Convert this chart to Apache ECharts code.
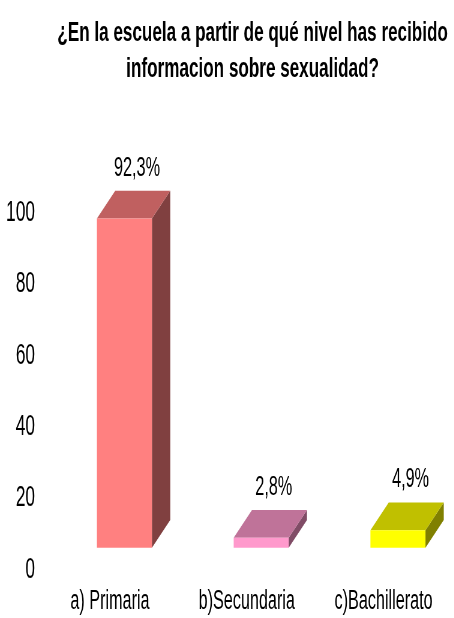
<!DOCTYPE html>
<html><head><meta charset="utf-8">
<script src="https://cdn.jsdelivr.net/npm/echarts@6/dist/echarts.min.js"></script>
<style>
html,body{margin:0;padding:0;background:#fff;overflow:hidden;width:454px;height:618px;}
#chart{width:757px;height:618px;transform:scaleX(0.6);transform-origin:0 0;}
</style></head><body><div id="chart"></div>
<script>
// ---- data ----
const titleText = '¿En la escuela a partir de qué nivel has recibido\ninformacion sobre sexualidad?';
const categories = ['a) Primaria', 'b)Secundaria', 'c)Bachillerato'];
const values = [92.3, 2.8, 4.9];
const yMin = 0, yMax = 100, yStep = 20;

// ---- styles ----
const frontColors = ['#FF8080', '#FF99CC', '#FFFF00'];
const topColors = ['#C06060', '#BF7399', '#C0C000'];
const sideColors = ['#804040', '#804C66', '#808000'];
const FONT = "'Liberation Sans', Arial, sans-serif";
const NARROW = "'Liberation Sans Narrow', 'Liberation Sans', Arial, sans-serif";
const BAR_W = 91.7, DX = 30.5, DY = 27.7, LIFT = 22, OFF_X = 24, LBL_DX = 21;

function fmt(v) { return v.toFixed(1).replace('.', ',') + '%'; }

function renderItem(params, api) {
  const i = api.value(0), v = api.value(1);
  const base = api.coord([i, 0]);
  const top = api.coord([i, v]);
  const cx = base[0] + OFF_X;
  const x0 = cx - BAR_W / 2, x1 = cx + BAR_W / 2;
  const yb = base[1] - LIFT, yt = top[1] - LIFT;
  return {
    type: 'group',
    children: [
      { type: 'polygon', shape: { points: [[x1, yt], [x1 + DX, yt - DY], [x1 + DX, yb - DY], [x1, yb]] },
        style: { fill: sideColors[i] } },
      { type: 'polygon', shape: { points: [[x0, yt], [x0 + DX, yt - DY], [x1 + DX, yt - DY], [x1, yt]] },
        style: { fill: topColors[i] } },
      { type: 'rect', shape: { x: x0, y: yt, width: BAR_W, height: yb - yt },
        style: { fill: frontColors[i] } },
      { type: 'text', x: cx + LBL_DX, y: yt - DY - 9,
        style: { text: fmt(v), fill: '#000', fontSize: 27, fontFamily: FONT, align: 'center', verticalAlign: 'bottom' } }
    ]
  };
}

const chart = echarts.init(document.getElementById('chart'), null, { renderer: 'canvas' });
chart.setOption({
  backgroundColor: '#fff',
  animation: false,
  title: {
    text: titleText,
    left: 421, top: 15, padding: 0,
    textAlign: 'center',
    textStyle: { fontFamily: FONT, fontWeight: 'bold', fontSize: 28.5, lineHeight: 36, color: '#000' }
  },
  grid: { left: 69.4, right: 3.8, top: 213, bottom: 48.3 },
  xAxis: {
    type: 'category', data: categories,
    axisLine: { show: false }, axisTick: { show: false }, splitLine: { show: false },
    axisLabel: { margin: 18, fontFamily: FONT, fontSize: 27, color: '#000', interval: 0 }
  },
  yAxis: {
    type: 'value', min: yMin, max: yMax, interval: yStep,
    axisLine: { show: false }, axisTick: { show: false }, splitLine: { show: false },
    axisLabel: { margin: 11, fontFamily: NARROW, fontSize: 29, color: '#000', padding: [5, 0, 0, 0] }
  },
  series: [{
    type: 'custom',
    renderItem: renderItem,
    data: values.map((v, i) => [i, v]),
    clip: false
  }]
});
</script></body></html>
